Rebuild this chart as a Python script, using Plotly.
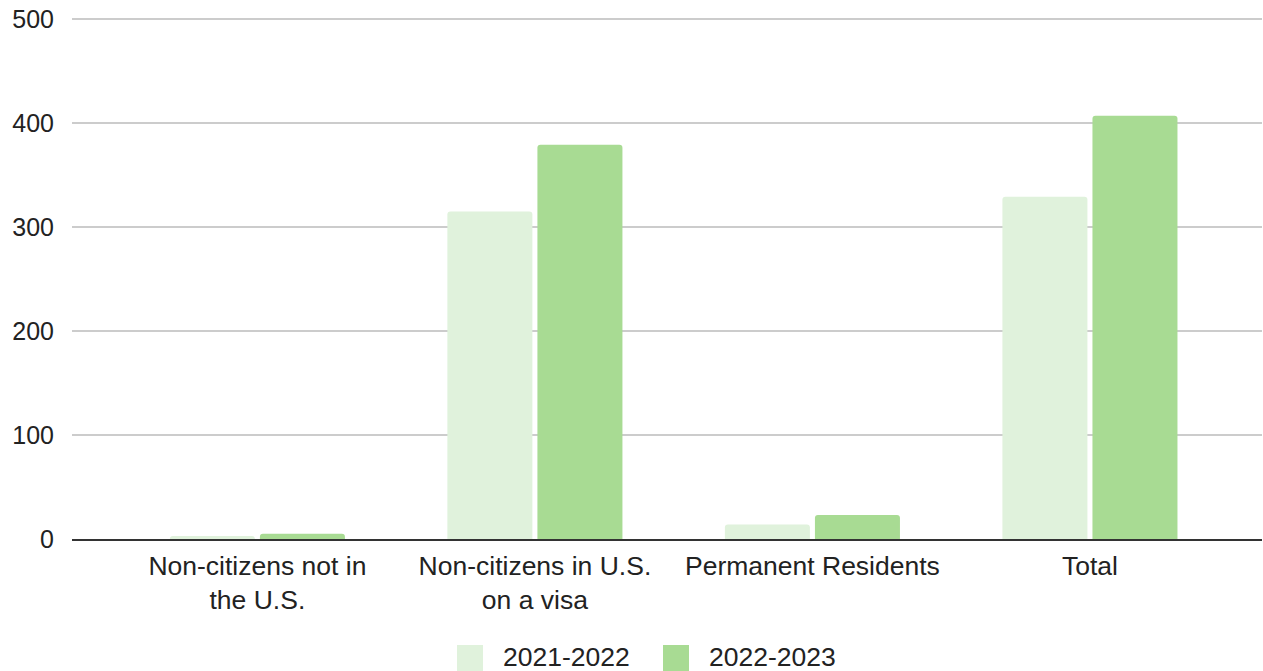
import plotly.graph_objects as go

categories = ["Non-citizens not in<br>the U.S.", "Non-citizens in U.S.<br>on a visa", "Permanent Residents", "Total"]
series_names = ["2021-2022", "2022-2023"]
values_2021_2022 = [3, 315, 14, 329]
values_2022_2023 = [5, 379, 23, 407]
colors = ["#e0f2dc", "#a8db93"]
y_ticks = [0, 100, 200, 300, 400, 500]

FONT = "Liberation Sans, Arial, sans-serif"
W, H = 1263, 671
L, R, T, B = 72, 1, 18, 132
pw = W - L - R
ph = H - T - B
YMAX = 501

fig = go.Figure()
for name, vals, col in zip(series_names, [values_2021_2022, values_2022_2023], colors):
    fig.add_trace(go.Bar(x=categories, y=vals, name=name, marker_color=col,
                         marker_line_width=0, marker_cornerradius=3, showlegend=False))

def px_x(p):
    return (p - L) / pw

def px_y(p):
    return (H - B - p) / ph

# manual legend (large square swatches like the reference)
legend_items = [(457, 501), (663, 707)]
shapes = []
annotations = []
for (sx, tx), name, col in zip(legend_items, series_names, colors):
    shapes.append(dict(type="rect", xref="paper", yref="paper",
                       x0=px_x(sx), x1=px_x(sx + 26), y0=px_y(645), y1=px_y(671),
                       fillcolor=col, line_width=0, layer="above"))
    annotations.append(dict(xref="paper", yref="paper", x=px_x(tx), y=px_y(657),
                            text=name, showarrow=False, xanchor="left", yanchor="middle",
                            font=dict(size=26.5, color="#222", family=FONT)))

fig.update_layout(
    width=W, height=H,
    margin=dict(l=L, r=R, t=T, b=B),
    paper_bgcolor="white", plot_bgcolor="white",
    barmode="group", bargap=0.351, bargroupgap=0.056,
    font=dict(family=FONT, size=25, color="#222"),
    showlegend=False,
    shapes=shapes,
    annotations=annotations,
    xaxis=dict(range=[-0.668, 3.62], showgrid=False, showline=True, linecolor="#333",
               linewidth=2, ticks="", tickfont=dict(size=26.5, color="#222"),
               ticklabelstandoff=2, fixedrange=True),
    yaxis=dict(range=[0, YMAX], tickvals=y_ticks, showgrid=True, gridcolor="#cccccc",
               gridwidth=1.5, zeroline=False, showline=False, ticks="",
               ticklabelstandoff=17, tickfont=dict(size=25, color="#222"), fixedrange=True),
)

fig.write_html("out.html", config={"displayModeBar": False})

with open("out.html", "r", encoding="utf-8") as f:
    html = f.read()
html = html.replace("<body>", '<body style="margin:0;padding:0;">', 1)
with open("out.html", "w", encoding="utf-8") as f:
    f.write(html)
